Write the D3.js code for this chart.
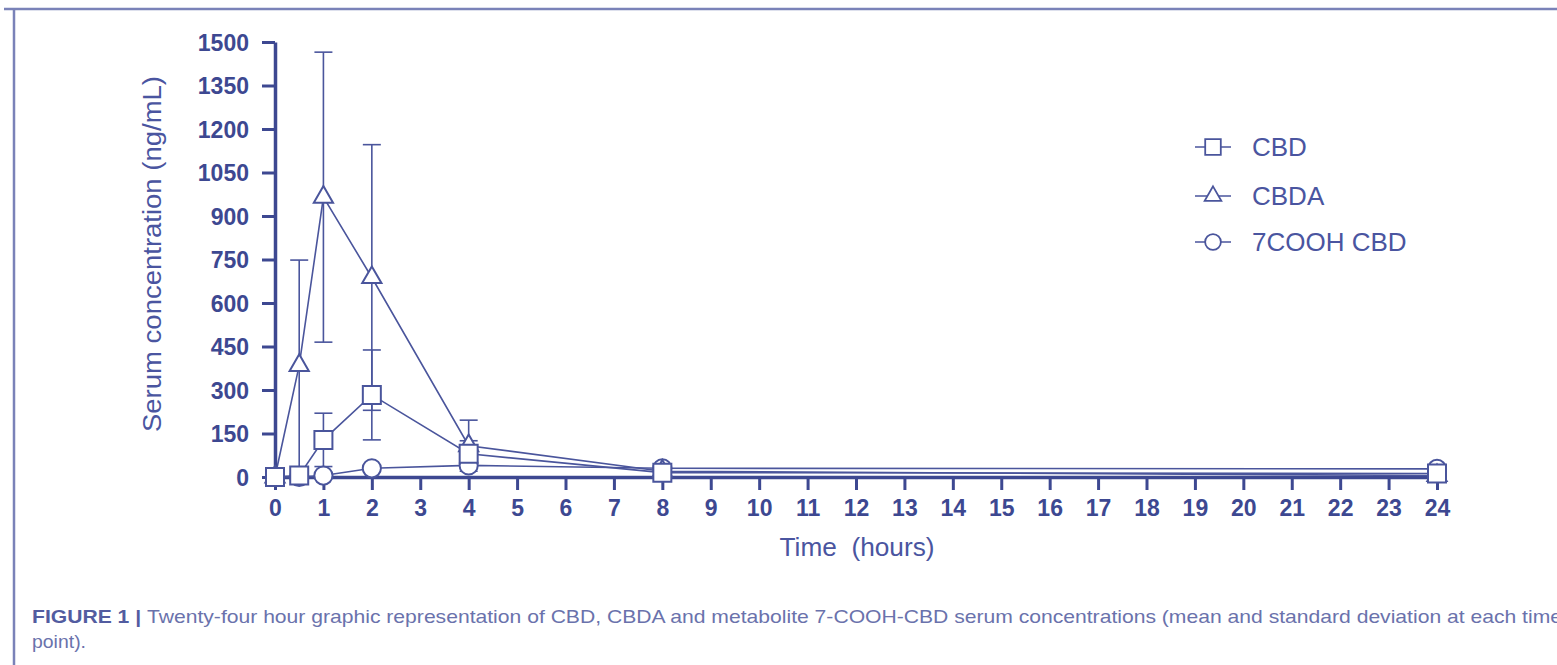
<!DOCTYPE html>
<html lang="en">
<head>
<meta charset="utf-8">
<title>serum concentrations</title>
<script src="https://cdn.jsdelivr.net/npm/d3@7"></script>
<style>
  body { margin: 0; background: #fff; }
  svg { display: block; font-family: "Liberation Sans", Arial, sans-serif; }
</style>
</head>
<body>
<script>
// data (ng/mL)
var times = [0, 0.5, 1, 2, 4, 8, 24];
var cbd = [0, 5, 128, 283, 80, 15, 12];
var cbdSd = [0, 5, 92, 155, 45, 8, 5];
var cbda = [0, 385, 965, 688, 108, 20, 5];
var cbdaSd = [0, 363, 500, 458, 88, 10, 4];
var cooh = [0, 0, 5, 30, 40, 30, 28];
var coohSd = [0, 0, 3, 8, 12, 8, 8];
var xTicks = d3.range(0, 25, 1);
var yTicks = d3.range(0, 1501, 150);
var seriesNames = ["CBD", "CBDA", "7COOH CBD"];

var w = 1557, h = 665;
var ink = "#3d4891";
var lineCol = "#4a559c";

var svg = d3.select("body").append("svg")
    .attr("width", w)
    .attr("height", h);

// frame lines of the figure panel
svg.append("line").attr("x1", 4).attr("x2", w).attr("y1", 9).attr("y2", 9)
    .attr("stroke", "#7a82b8").attr("stroke-width", 2.5);
svg.append("line").attr("x1", 14).attr("x2", 14).attr("y1", 9).attr("y2", h)
    .attr("stroke", "#7a82b8").attr("stroke-width", 2.5);

var x = d3.scaleLinear().domain([0, 24]).range([275, 1437]);
var y = d3.scaleLinear().domain([0, 1500]).range([477, 42]);

var series = [
  { name: seriesNames[0], mean: cbd, sd: cbdSd, sym: d3.symbolSquare, size: 324 },
  { name: seriesNames[1], mean: cbda, sd: cbdaSd, sym: d3.symbolTriangle, size: 160 },
  { name: seriesNames[2], mean: cooh, sd: coohSd, sym: d3.symbolCircle, size: 260 }
];

// axes
var yaxis = d3.axisLeft(y).tickValues(yTicks).tickFormat(d3.format("d"))
    .tickSize(13).tickSizeOuter(0).tickPadding(13);
var xaxis = d3.axisBottom(x).tickValues(xTicks).tickFormat(d3.format("d"))
    .tickSize(13).tickSizeOuter(0).tickPadding(8);

var gy = svg.append("g").attr("transform", "translate(" + x(0) + ",0)").call(yaxis);
var gx = svg.append("g").attr("transform", "translate(0," + y(0) + ")").call(xaxis);

[gx, gy].forEach(function(g) {
  g.select(".domain").attr("stroke", ink).attr("stroke-width", 3.5);
  g.selectAll(".tick line").attr("stroke", ink).attr("stroke-width", 3);
  g.selectAll(".tick text")
    .attr("fill", ink)
    .attr("font-size", 23)
    .attr("font-weight", "bold")
    .attr("font-family", "Liberation Sans, Arial, sans-serif");
});
gy.selectAll(".tick text").attr("dy", "0.36em");
gx.selectAll(".tick text").attr("dy", "0.8em");

// axis titles
svg.append("text")
    .attr("transform", "translate(161,254) rotate(-90)")
    .attr("text-anchor", "middle")
    .attr("fill", "#4a55a0")
    .attr("font-size", 25)
    .attr("textLength", 356)
    .attr("lengthAdjust", "spacingAndGlyphs")
    .text("Serum concentration (ng/mL)");

svg.append("text")
    .attr("x", 857).attr("y", 556)
    .attr("text-anchor", "middle")
    .attr("fill", "#4a55a0")
    .attr("font-size", 25)
    .attr("xml:space", "preserve")
    .attr("textLength", 155)
    .attr("lengthAdjust", "spacingAndGlyphs")
    .text("Time  (hours)");

// lines
var line = d3.line()
    .x(function(d, i) { return x(times[i]); })
    .y(function(d) { return y(d); });

series.slice().reverse().forEach(function(s) {
  svg.append("path")
      .datum(s.mean)
      .attr("d", line)
      .attr("fill", "none")
      .attr("stroke", lineCol)
      .attr("stroke-width", 1.6);
});

// error bars
series.forEach(function(s) {
  var g = svg.append("g").attr("stroke", lineCol).attr("stroke-width", 1.6);
  s.mean.forEach(function(m, i) {
    if (s.sd[i] <= 0) return;
    var top = y(m + s.sd[i]), bot = y(Math.max(0, m - s.sd[i])), cx = x(times[i]);
    g.append("line").attr("x1", cx).attr("x2", cx).attr("y1", top).attr("y2", bot);
    g.append("line").attr("x1", cx - 9).attr("x2", cx + 9).attr("y1", top).attr("y2", top);
    g.append("line").attr("x1", cx - 9).attr("x2", cx + 9).attr("y1", bot).attr("y2", bot);
  });
});

// markers: circles first, squares on top
series.slice().reverse().forEach(function(s) {
  svg.append("g").selectAll("path")
      .data(s.mean)
      .enter()
      .append("path")
      .attr("d", d3.symbol().type(s.sym).size(s.size))
      .attr("transform", function(d, i) { return "translate(" + x(times[i]) + "," + y(d) + ")"; })
      .attr("fill", "#fff")
      .attr("stroke", lineCol)
      .attr("stroke-width", 2);
});

// legend
var leg = svg.append("g");
var legY = [147, 196, 242];
series.forEach(function(s, i) {
  var g = leg.append("g").attr("transform", "translate(0," + legY[i] + ")");
  g.append("line").attr("x1", 1195).attr("x2", 1231).attr("y1", 0).attr("y2", 0)
      .attr("stroke", lineCol).attr("stroke-width", 1.6);
  g.append("path")
      .attr("d", d3.symbol().type(s.sym).size(s.size * 0.75))
      .attr("transform", "translate(1213,0)")
      .attr("fill", "#fff")
      .attr("stroke", lineCol)
      .attr("stroke-width", 1.8);
  g.append("text")
      .attr("x", 1252).attr("y", 9)
      .attr("fill", "#4a55a0")
      .attr("font-size", 26)
      .text(s.name);
});

// caption
var cap = svg.append("text")
    .attr("x", 32).attr("y", 623)
    .attr("fill", "#6a72ac")
    .attr("font-size", 19)
    .attr("textLength", 1530)
    .attr("lengthAdjust", "spacingAndGlyphs");
cap.append("tspan").attr("font-weight", "bold").attr("fill", "#525ca0").text("FIGURE 1 | ");
cap.append("tspan").text("Twenty-four hour graphic representation of CBD, CBDA and metabolite 7-COOH-CBD serum concentrations (mean and standard deviation at each time");

svg.append("text")
    .attr("x", 32).attr("y", 648)
    .attr("fill", "#6a72ac")
    .attr("font-size", 19)
    .attr("textLength", 54)
    .attr("lengthAdjust", "spacingAndGlyphs")
    .text("point).");
</script>
</body>
</html>
